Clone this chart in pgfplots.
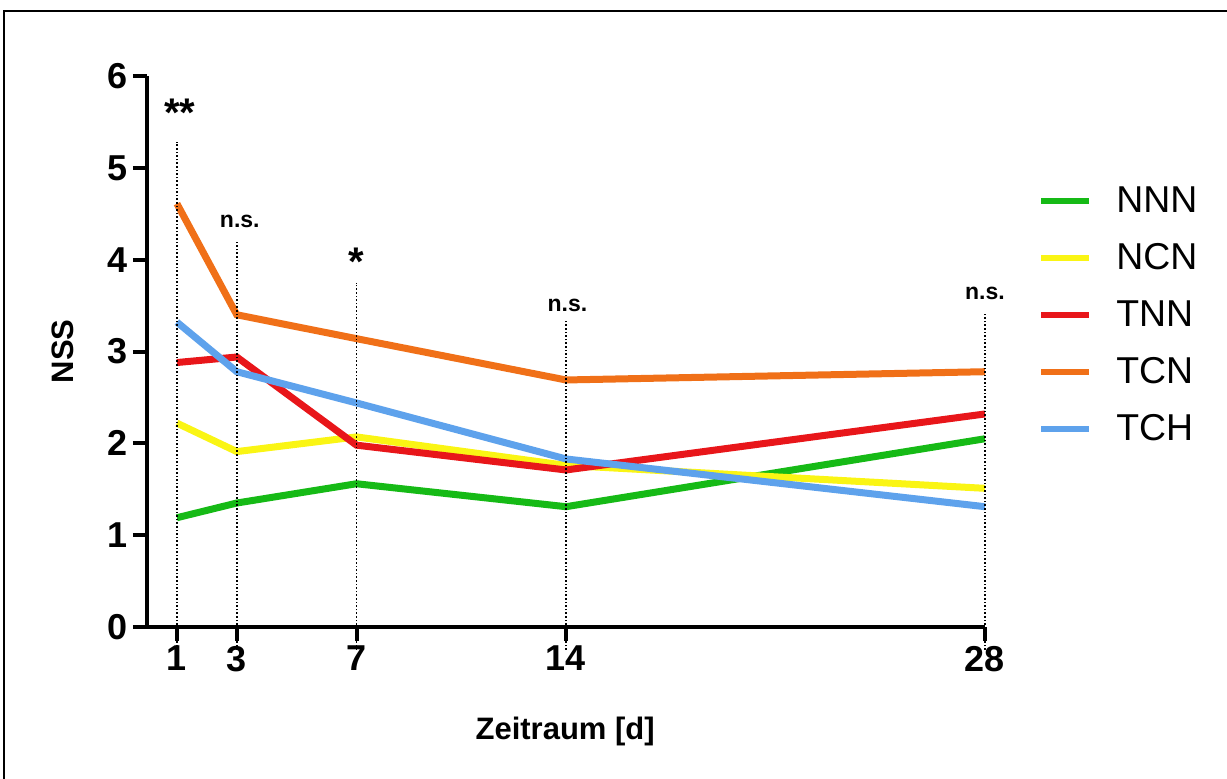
\documentclass[border=0pt]{standalone}
\usepackage{pgfplots}
\pgfplotsset{compat=1.18}
\usepackage{fontspec}
\setmainfont{Liberation Sans}
\definecolor{cNNN}{RGB}{22,186,22}
\definecolor{cNCN}{RGB}{250,245,20}
\definecolor{cTNN}{RGB}{232,22,26}
\definecolor{cTCN}{RGB}{240,112,24}
\definecolor{cTCH}{RGB}{94,162,236}
\begin{document}
\begin{tikzpicture}
\useasboundingbox (0,0) rectangle (613.5pt,389pt);
\draw[line width=1pt] (2pt,-2pt) -- (2pt,383.5pt) -- (616pt,383.5pt);
\begin{axis}[
  at={(73.5pt,75.5pt)}, anchor=south west,
  scale only axis, width=419pt, height=275.5pt,
  xmin=0, xmax=28, ymin=0, ymax=6,
  axis x line*=bottom, axis y line*=left,
  axis line style={line width=2pt, -},
  xtick={1,3,7,14,28}, ytick={0,1,2,3,4,5,6},
  tick style={line width=2pt, black},
  tick align=outside, major tick length=7pt,
  ticklabel style={font=\bfseries\fontsize{18}{19}\selectfont},
  /pgf/number format/assume math mode=true,
  yticklabel style={xshift=1pt},
  xticklabel style={yshift=1pt},
  clip=false,
  xlabel={Zeitraum [d]}, ylabel={NSS},
  xlabel style={font=\bfseries\fontsize{15.5}{17}\selectfont, at={(axis description cs:0.499,-0.189)}, anchor=center},
  ylabel style={font=\bfseries\fontsize{15.5}{17}\selectfont, at={(axis description cs:-0.101,0.5)}, anchor=center},
  legend style={at={(axis description cs:1.056,0.8145)}, anchor=north west, draw=none, fill=none,
    font=\fontsize{18.7}{20}\selectfont, row sep=10pt, column sep=10pt},
  legend cell align=left,
  legend image code/.code={\draw[#1, line width=3pt] (0pt,0pt) -- (24pt,0pt);},
  every axis plot/.append style={line width=3.5pt},
]
\addplot[cNNN] coordinates {(1,1.19) (3,1.35) (7,1.56) (14,1.31) (28,2.05)};
\addlegendentry{NNN}
\addplot[cNCN] coordinates {(1,2.22) (3,1.91) (7,2.07) (14,1.76) (28,1.51)};
\addlegendentry{NCN}
\addplot[cTNN] coordinates {(1,2.88) (3,2.94) (7,1.98) (14,1.71) (28,2.32)};
\addlegendentry{TNN}
\addplot[cTCN] coordinates {(1,4.61) (3,3.40) (7,3.14) (14,2.69) (28,2.78)};
\addlegendentry{TCN}
\addplot[cTCH] coordinates {(1,3.32) (3,2.78) (7,2.44) (14,1.83) (28,1.31)};
\addlegendentry{TCH}
\addplot[black, line width=0.8pt, densely dotted, forget plot] coordinates {(1,-0.25) (1,5.28)};
\addplot[black, line width=0.8pt, densely dotted, forget plot] coordinates {(3,-0.25) (3,4.21)};
\addplot[black, line width=0.8pt, densely dotted, forget plot] coordinates {(7,-0.25) (7,3.75)};
\addplot[black, line width=0.8pt, densely dotted, forget plot] coordinates {(14,-0.25) (14,3.34)};
\addplot[black, line width=0.8pt, densely dotted, forget plot] coordinates {(28,-0.25) (28,3.42)};
\draw[line width=2pt] (axis cs:-0.37,0) -- (axis cs:0,0);
\node[font=\bfseries\fontsize{20}{20}\selectfont] at (axis cs:1.1,5.6) {**};
\node[font=\bfseries\fontsize{20}{20}\selectfont] at (axis cs:7,3.98) {*};
\node[font=\bfseries\fontsize{11.5}{12}\selectfont] at (axis cs:3.1,4.42) {n.s.};
\node[font=\bfseries\fontsize{11.5}{12}\selectfont] at (axis cs:14.05,3.50) {n.s.};
\node[font=\bfseries\fontsize{11.5}{12}\selectfont] at (axis cs:28,3.63) {n.s.};
\end{axis}
\end{tikzpicture}
\end{document}
